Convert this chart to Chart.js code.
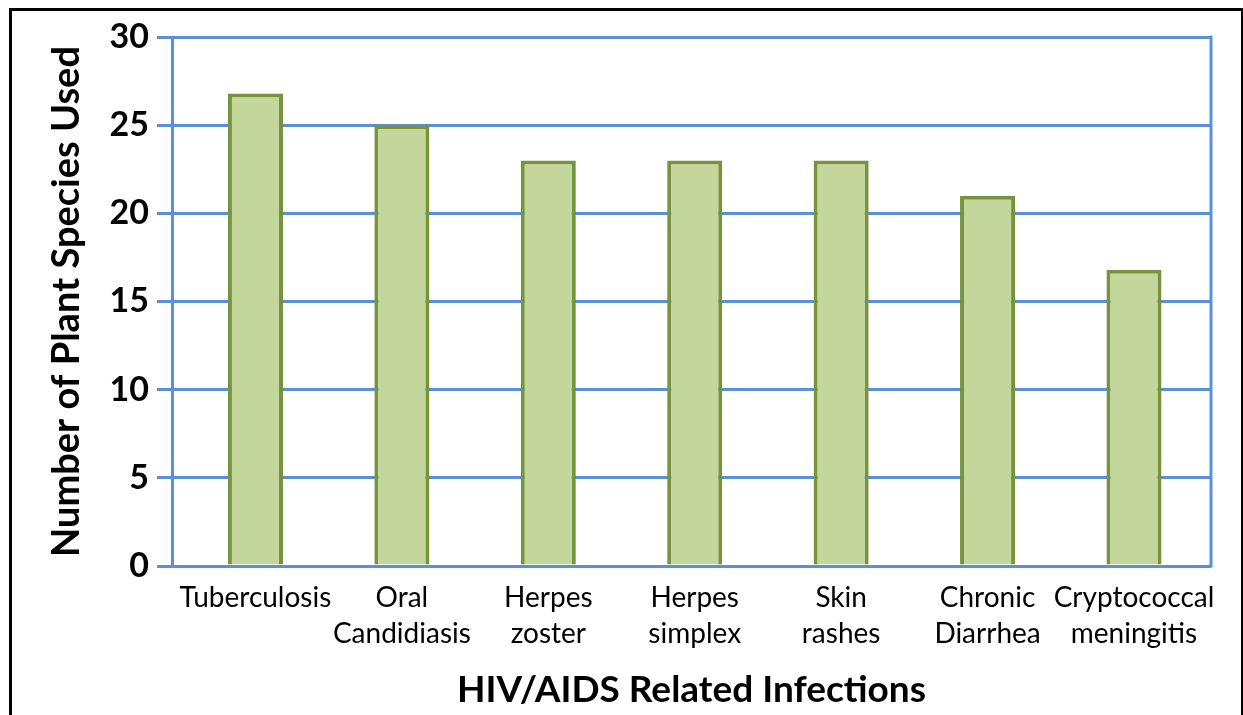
<!DOCTYPE html>
<html>
<head>
<meta charset="utf-8">
<script src="https://cdn.jsdelivr.net/npm/chart.js@4/dist/chart.umd.min.js"></script>
<style>
  html, body { margin: 0; padding: 0; background: #fff; }
  #wrap { position: relative; width: 1243px; height: 715px; }
  #frame { position: absolute; left: 9px; top: 8px; width: 1229px; height: 720px;
           border-left: 3px solid #000; border-top: 3px solid #000; border-right: 3px solid #000;
           pointer-events: none; }
</style>
</head>
<body>
<div id="wrap">
  <canvas id="c" width="1243" height="715"></canvas>
  <div id="frame"></div>
</div>
<script>
const categories = [
  "Tuberculosis",
  ["Oral", "Candidiasis"],
  ["Herpes", "zoster"],
  ["Herpes", "simplex"],
  ["Skin", "rashes"],
  ["Chronic", "Diarrhea"],
  ["Cryptococcal", "meningitis"]
];
const speciesCounts = [26.8, 25, 23, 23, 23, 21, 16.8];
const yTicks = [0, 5, 10, 15, 20, 25, 30];

const gridBlue = '#5b8fd6';

const rightFrame = {
  id: 'rightFrame',
  beforeDatasetsDraw(chart) {
    const {ctx, chartArea} = chart;
    ctx.save();
    ctx.strokeStyle = gridBlue;
    ctx.lineWidth = 3;
    ctx.beginPath();
    ctx.moveTo(chartArea.right, chartArea.top - 1.5);
    ctx.lineTo(chartArea.right, chartArea.bottom + 1.5);
    ctx.stroke();
    ctx.restore();
  }
};

new Chart(document.getElementById('c'), {
  type: 'bar',
  data: {
    datasets: [{
      data: speciesCounts.map((v, i) => ({ x: i, y: v })),
      backgroundColor: '#c3d69b',
      borderColor: '#77933c',
      borderWidth: 4,
      barPercentage: 0.376,
      categoryPercentage: 1.0
    }]
  },
  plugins: [rightFrame],
  options: {
    responsive: false,
    animation: false,
    layout: { padding: { top: 37, left: 0, right: 32, bottom: 0 } },
    plugins: { legend: { display: false }, tooltip: { enabled: false } },
    scales: {
      x: {
        type: 'linear',
        offset: false,
        min: -0.57,
        max: 6.526,
        afterBuildTicks(scale) { scale.ticks = categories.map((c, i) => ({ value: i })); },
        grid: { display: false, drawTicks: false },
        border: { display: false },
        ticks: {
          color: '#000',
          font: { family: 'Lato', size: 28, lineHeight: 1.28 },
          padding: 14,
          maxRotation: 0,
          autoSkip: false,
          callback: (v) => categories[v]
        },
        title: {
          display: true,
          text: 'HIV/AIDS Related Infections',
          color: '#000',
          font: { family: 'Lato', size: 37, weight: 'bold', lineHeight: 1.2 },
          padding: { top: 0, bottom: 3 }
        },
        afterFit(scale) { scale.height = 149; }
      },
      y: {
        min: 0,
        max: 30,
        afterBuildTicks(scale) { scale.ticks = yTicks.map(v => ({ value: v })); },
        grid: { color: gridBlue, lineWidth: 3, tickLength: 15, drawTicks: true },
        border: { display: true, color: gridBlue, width: 3 },
        ticks: {
          color: '#000',
          font: { family: 'Lato', size: 34, weight: 'bold' },
          padding: 8
        },
        title: {
          display: true,
          text: 'Number of Plant Species Used',
          color: '#000',
          font: { family: 'Lato', size: 38, weight: 'bold', lineHeight: 1.2 },
          padding: { top: 44, bottom: 0 }
        },
        afterFit(scale) { scale.width = 172; }
      }
    }
  }
});
</script>
</body>
</html>
